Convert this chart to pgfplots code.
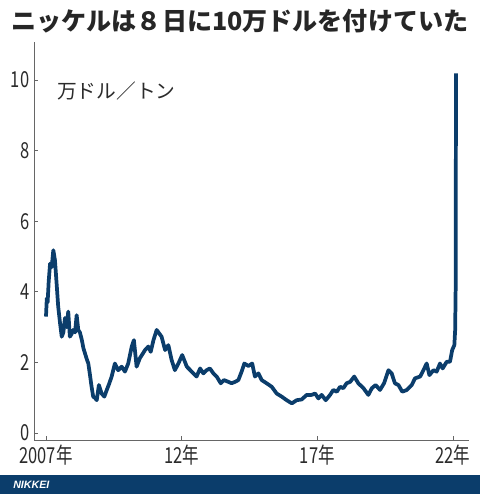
\documentclass[border=0pt]{standalone}
\usepackage{fontspec}
\usepackage{pgfplots}
\pgfplotsset{compat=1.18}
\setmainfont{Noto Sans CJK JP}
\newfontfamily\tickfont{Noto Sans CJK JP}[FakeStretch=0.75]
\newfontfamily\logofont{Liberation Sans}
\definecolor{navy}{HTML}{0B3D6B}
\definecolor{axisgray}{HTML}{666666}
\definecolor{labelgray}{HTML}{2B2B2B}

\begin{document}
\begin{tikzpicture}
  \useasboundingbox (0,0) rectangle (360pt,370.5pt);

  \begin{axis}[
    at={(25.5pt,40.5pt)}, anchor=south west,
    scale only axis,
    width=326.25pt, height=298.5pt,
    xmin=2006.558, xmax=2022.59,
    ymin=-0.198, ymax=11.08,
    axis x line=bottom, axis y line=left,
    axis line style={-, draw=axisgray, line width=0.7pt},
    tick align=inside,
    major tick length=3pt,
    tick style={draw=axisgray, line width=0.7pt},
    xtick={2007,2012,2017,2022},
    xticklabels={2007年,12年,17年,22年},
    ytick={0,2,4,6,8,10},
    yticklabels={0,2,4,6,8,10},
    tick label style={font=\tickfont\fontsize{16.5}{16.5}\selectfont, text=labelgray},
    clip=false,
  ]
  % ニッケル価格（万ドル/トン）
  \addplot[navy, line width=2.8pt, line join=round] coordinates {
    (2007.00,3.30) (2007.03,3.82) (2007.06,3.70) (2007.10,4.30) (2007.15,4.80)
    (2007.21,4.70) (2007.27,5.18) (2007.33,4.90) (2007.39,4.25) (2007.45,3.58)
    (2007.52,3.10) (2007.58,2.73) (2007.64,2.85) (2007.70,3.26) (2007.76,3.00)
    (2007.82,3.44) (2007.88,2.73) (2007.94,2.80) (2008.00,2.92) (2008.07,2.85)
    (2008.13,3.34) (2008.19,2.92) (2008.25,2.85) (2008.32,2.64) (2008.38,2.40)
    (2008.44,2.25) (2008.50,2.10) (2008.56,1.97) (2008.62,1.65) (2008.68,1.31)
    (2008.74,1.03) (2008.80,1.00) (2008.87,0.93) (2008.95,1.36) (2009.05,1.12)
    (2009.15,1.03) (2009.24,1.22) (2009.33,1.40) (2009.42,1.60) (2009.54,1.97)
    (2009.66,1.78) (2009.79,1.88) (2009.91,1.74) (2010.03,1.97) (2010.16,2.45)
    (2010.24,2.63) (2010.34,1.88) (2010.46,2.12) (2010.65,2.35) (2010.77,2.45)
    (2010.86,2.30) (2010.96,2.63) (2011.08,2.92) (2011.26,2.73) (2011.39,2.35)
    (2011.51,2.49) (2011.63,2.07) (2011.75,1.78) (2011.88,1.97) (2012.02,2.21)
    (2012.19,1.88) (2012.37,1.74) (2012.55,1.60) (2012.68,1.83) (2012.80,1.69)
    (2012.92,1.78) (2013.04,1.83) (2013.17,1.69) (2013.29,1.60) (2013.44,1.41)
    (2013.56,1.50) (2013.72,1.45) (2013.84,1.41) (2013.97,1.45) (2014.09,1.50)
    (2014.21,1.74) (2014.31,1.97) (2014.46,1.90) (2014.60,1.97) (2014.70,1.60)
    (2014.83,1.69) (2014.95,1.50) (2015.13,1.41) (2015.32,1.31) (2015.50,1.12)
    (2015.69,1.03) (2015.87,0.93) (2016.06,0.84) (2016.24,0.93) (2016.42,0.95)
    (2016.61,1.08) (2016.79,1.08) (2016.92,1.12) (2017.04,0.98) (2017.16,1.08)
    (2017.31,0.93) (2017.47,1.08) (2017.59,1.22) (2017.72,1.17) (2017.84,1.31)
    (2017.96,1.27) (2018.08,1.41) (2018.21,1.45) (2018.36,1.60) (2018.51,1.41)
    (2018.70,1.27) (2018.88,1.08) (2019.01,1.27) (2019.15,1.36) (2019.31,1.22)
    (2019.46,1.41) (2019.62,1.78) (2019.74,1.69) (2019.86,1.41) (2019.99,1.36)
    (2020.13,1.17) (2020.30,1.22) (2020.48,1.36) (2020.60,1.55) (2020.79,1.60)
    (2020.91,1.78) (2021.03,1.97) (2021.13,1.64) (2021.28,1.78) (2021.40,1.74)
    (2021.52,1.97) (2021.62,1.83) (2021.77,2.02) (2021.89,2.02) (2021.97,2.35)
    (2022.05,2.49) (2022.08,2.92) (2022.10,4.20) (2022.11,10.19)
  };
  \end{axis}

  % 単位
  \node[anchor=west, text=labelgray, font=\fontsize{14.8}{14.8}\selectfont, inner sep=0pt]
    at (42.75pt,302.25pt) {万ドル／トン};
  % タイトル
  \node[anchor=center, text=black!85, font=\bfseries\fontsize{18.8}{18.8}\selectfont, inner sep=0pt]
    at (180pt,354.75pt) {ニッケルは８日に10万ドルを付けていた};
  % 下の帯
  \fill[navy] (0,0) rectangle (360pt,14.25pt);
  \node[anchor=west, text=white, font=\logofont\bfseries\itshape\fontsize{8}{8}\selectfont, inner sep=0pt]
    at (9.75pt,7.125pt) {NIKKEI};
\end{tikzpicture}
\end{document}
